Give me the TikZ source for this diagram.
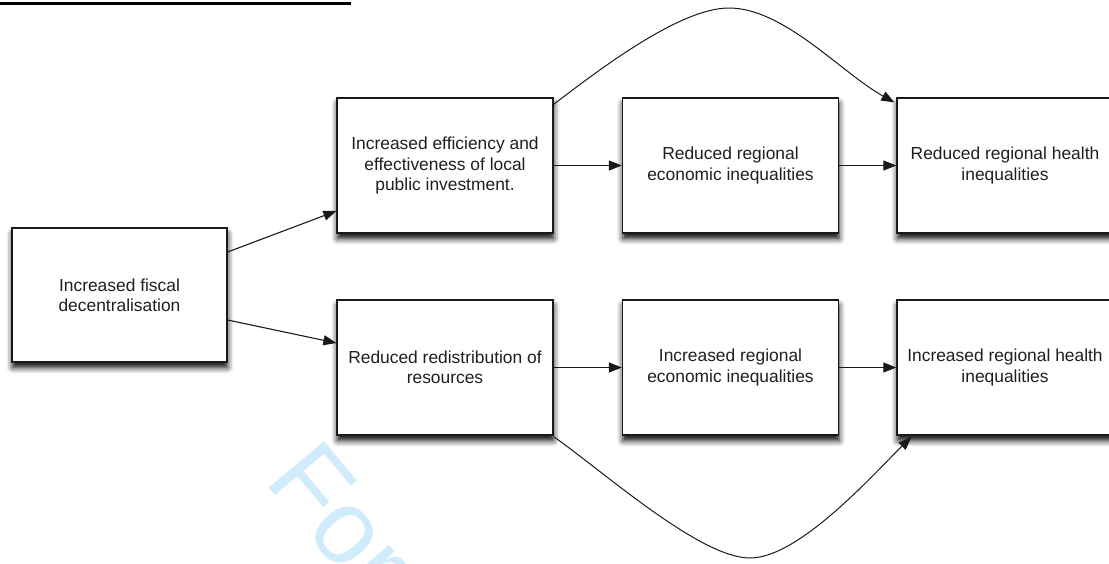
\documentclass[tikz,border=0pt]{standalone}
\usepackage{fontspec}
\setmainfont{Liberation Sans}
\usetikzlibrary{arrows.meta,shadows.blur}
\definecolor{wmark}{RGB}{208,236,251}
\begin{document}
\begin{tikzpicture}[x=1pt,y=-1pt,
  box/.style={draw=black!90,line width=1.3pt,fill=white,
    minimum width=216pt,minimum height=135pt,inner sep=0pt,align=center,
    font=\fontsize{17.4}{20.2}\selectfont,text=black!88,
    blur shadow={shadow xshift=0.5pt,shadow yshift=-5.5pt,shadow blur radius=6pt,shadow opacity=100}},
  arr/.style={line width=1.1pt,draw=black!90,-{Triangle[length=13pt,width=10pt]}},
  curve/.style={line width=1pt,draw=black!90,-{Triangle[length=13pt,width=10pt]}}]
\useasboundingbox (0,0) rectangle (1109,563);
\clip (0,0) rectangle (1109,563);
% watermark
\node[rotate=-50,anchor=base west,text=wmark,inner sep=0pt,
  font=\fontsize{105}{105}\selectfont] (wm) at (263.2,481.5) {For Peer Review};
% heading underline (text cut off above)
\coordinate (ulA) at (0,3.3);
\coordinate (ulB) at (351,3.3);
\draw[line width=2.5pt] (ulA) -- (ulB);
% boxes
\node[box,minimum width=215pt,minimum height=134pt] (A) at (119.5,295) {Increased fiscal\\decentralisation};
\node[box] (B) at (445,165.5) {Increased efficiency and\\effectiveness of local\\public investment.};
\node[box] (C) at (445,367.5) {Reduced redistribution of\\resources};
\node[box] (D) at (730.5,165.5) {Reduced regional\\economic inequalities};
\node[box] (E) at (730.5,367.5) {Increased regional\\economic inequalities};
\node[box] (F) at (1005,165.5) {Reduced regional health\\inequalities};
\node[box] (G) at (1005,367.5) {Increased regional health\\inequalities};
% connectors
\draw[arr] ([yshift=43pt]A.east) -- ([yshift=-45.5pt]B.west);
\draw[arr] ([yshift=-25pt]A.east) -- ([yshift=24.5pt]C.west);
\draw[arr] (B) -- (D);
\draw[arr] (D) -- (F);
\draw[arr] (C) -- (E);
\draw[arr] (E) -- (G);
\draw[curve] ([yshift=-7pt]B.north east) .. controls (600,69) and (680,8) .. (729,8)
  .. controls (784,8) and (841.5,73) .. ([xshift=-2pt,yshift=-5pt]F.north west);
\draw[curve] ([yshift=-1pt]C.south east) .. controls (604,472) and (700,558) .. (750,558)
  .. controls (800,558) and (875.7,471.5) .. ([xshift=15pt,yshift=-1.5pt]G.south west);
\end{tikzpicture}
\end{document}
